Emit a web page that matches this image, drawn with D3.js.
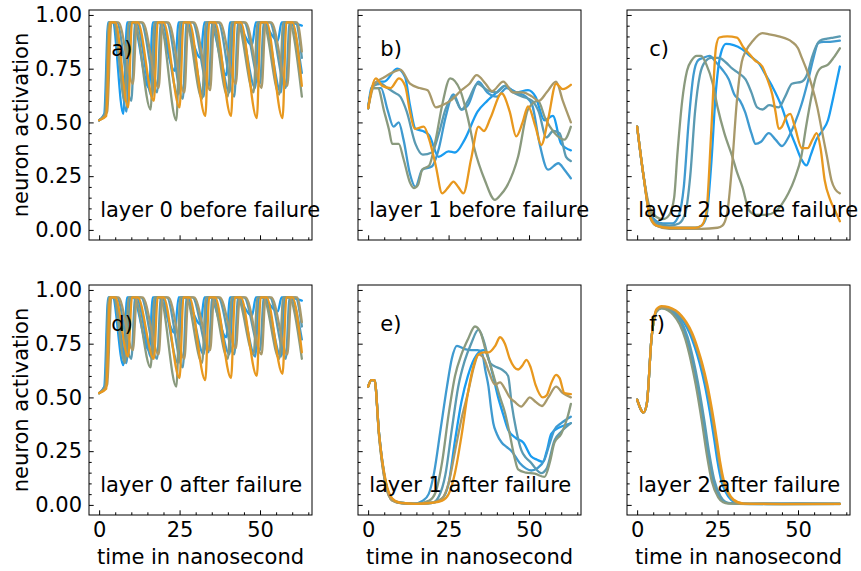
<!DOCTYPE html>
<html><head><meta charset="utf-8">
<script src="https://cdn.jsdelivr.net/npm/d3@7"></script>
<style>body{margin:0;background:#fff}svg{display:block}text{font-family:"DejaVu Sans",sans-serif}</style>
</head><body><svg id="c" width="861" height="571"></svg>
<script>
// ---------- data (time in ns, activation) ----------
const seriesColors = ["#1a9cf0","#3f9ad0","#5a9ab2","#8a9a7e","#a8996a","#e8981e"];
const panelTags = ["a)","b)","c)","d)","e)","f)"];
const panelTitles = ["layer 0 before failure","layer 1 before failure","layer 2 before failure",
                     "layer 0 after failure","layer 1 after failure","layer 2 after failure"];
const xTicks = [0,25,50];
const yTicks = [0,0.25,0.5,0.75,1.0];

// panel a: layer 0 before failure
const pa0=[[0,.51],[1.6,.54],[2.8,.965],[4.2,.965],[7.5,.54],[8.7,.965],[10.5,.965],[15.5,.66],[16.7,.965],[18.5,.965],[23.5,.74],[24.7,.965],[26.5,.965],[31.5,.80],[32.7,.965],[34.5,.965],[39.5,.72],[40.7,.965],[42.5,.965],[47.5,.86],[48.7,.965],[50.5,.965],[55.5,.88],[56.7,.965],[58.5,.965],[63,.95]];
const pa1=[[0,.51],[2,.54],[3.2,.965],[4.8,.965],[8.5,.55],[9.7,.965],[11.5,.965],[16.5,.62],[17.7,.965],[19.5,.965],[24.5,.63],[25.7,.965],[27.5,.965],[32.5,.62],[33.7,.965],[35.5,.965],[40.5,.64],[41.7,.965],[43.5,.965],[48.5,.66],[49.7,.965],[51.5,.965],[56.5,.64],[57.7,.965],[59.5,.965],[63,.73]];
const pa2=[[0,.51],[2.3,.56],[3.5,.965],[5.5,.965],[10,.60],[11.2,.965],[13,.965],[18,.64],[19.2,.965],[21,.965],[26,.61],[27.2,.965],[29,.965],[34,.66],[35.2,.965],[37,.965],[42,.62],[43.2,.965],[45,.965],[50,.68],[51.2,.965],[53,.965],[58,.66],[59.2,.965],[61,.965],[63,.80]];
const pa3=[[0,.51],[1.8,.53],[3,.965],[4.5,.965],[8,.60],[9.2,.965],[11,.965],[16,.56],[17.2,.965],[19,.965],[24,.51],[25.2,.965],[27,.965],[32,.61],[33.2,.965],[35,.965],[40,.62],[41.2,.965],[43,.965],[48,.64],[49.2,.965],[51,.965],[56,.63],[57.2,.965],[59,.965],[63,.62]];
const pa4=[[0,.51],[2.5,.55],[3.8,.965],[6,.965],[10.5,.68],[11.7,.965],[13.5,.965],[18.5,.66],[19.7,.965],[21.5,.965],[26.5,.64],[27.7,.965],[29.5,.965],[34.5,.65],[35.7,.965],[37.5,.965],[42.5,.68],[43.7,.965],[45.5,.965],[50.5,.66],[51.7,.965],[53.5,.965],[58.5,.67],[59.7,.965],[61.5,.965],[63,.83]];
const pa5=[[0,.51],[2.2,.53],[3.4,.965],[5,.965],[9,.57],[10.2,.965],[12,.965],[17,.60],[18.2,.965],[20,.965],[25,.57],[26.2,.965],[28,.965],[33,.53],[34.2,.965],[36,.965],[41,.53],[42.2,.965],[44,.965],[49,.52],[50.2,.965],[52,.965],[57,.52],[58.2,.965],[60,.965],[63,.67]];

// panel b: layer 1 before failure
const pb0=[[0,.566],[1,.66],[3,.69],[5,.69],[9,.75],[11.5,.71],[13,.58],[14.7,.47],[17,.46],[19,.44],[21.9,.34],[25,.365],[27,.36],[30,.42],[34,.55],[37,.60],[40,.64],[42.5,.67],[46,.64],[49.7,.65],[52,.62],[54.8,.51],[57.4,.53],[60,.40],[63,.37]];
const pb1=[[0,.566],[1.5,.66],[4,.66],[6,.56],[7.9,.48],[9.5,.50],[11,.42],[13,.26],[14.7,.20],[16.8,.28],[19.8,.295],[22,.38],[24,.52],[26.5,.63],[29,.56],[31,.58],[34.3,.69],[37,.64],[40,.62],[43,.66],[46,.64],[49,.62],[51,.58],[53.3,.40],[55.9,.28],[59.1,.31],[61,.28],[63,.24]];
const pb2=[[0,.566],[1.5,.67],[4,.68],[6,.66],[8,.64],[10,.62],[12,.55],[14.7,.40],[17,.35],[19.8,.36],[22,.45],[24,.56],[26.5,.62],[29,.56],[31,.60],[34,.68],[37,.65],[40,.64],[42.5,.67],[45,.64],[48,.62],[51,.60],[53,.55],[55.4,.43],[57.5,.46],[59.5,.45],[61.5,.34],[63,.32]];
const pb3=[[0,.566],[1.5,.66],[3,.66],[5,.55],[6.5,.465],[7.5,.40],[9.5,.40],[11,.33],[13,.22],[14.2,.195],[15.5,.21],[16.8,.28],[19,.30],[21,.42],[23,.58],[25.5,.705],[28.6,.65],[31,.52],[33,.38],[36.3,.23],[39.4,.14],[41,.16],[43,.20],[46.6,.34],[49.7,.56],[52.8,.60],[55,.52],[58,.45],[61,.42],[63,.48]];
const pb4=[[0,.566],[2,.68],[5,.71],[8,.735],[10,.745],[13,.68],[16,.66],[18.5,.65],[21,.57],[23,.58],[25.5,.60],[29,.65],[31.5,.68],[33.7,.72],[36.5,.68],[38.5,.645],[42,.69],[45,.64],[48,.64],[51,.62],[53,.60],[55.5,.64],[58.4,.69],[60.5,.60],[63,.50]];
const pb5=[[0,.566],[2.4,.705],[4.4,.67],[7,.66],[9.6,.705],[11.5,.67],[13,.55],[14.5,.47],[17.3,.48],[19,.42],[21,.30],[23,.17],[25,.20],[26.5,.225],[28,.20],[29.6,.17],[32,.33],[34.3,.48],[36,.46],[38,.52],[41.5,.635],[44,.55],[46,.435],[48,.50],[49.7,.575],[52,.48],[53.8,.395],[56,.52],[58.4,.68],[60.5,.655],[63,.675]];

// panel c: layer 2 before failure
const pc0=[[0,.48],[2,.25],[4,.06],[6,.02],[10,.01],[18,.01],[20,.02],[21.5,.06],[23,.30],[24.5,.65],[26,.82],[27.6,.865],[30,.86],[32.7,.84],[35,.81],[37.8,.775],[40,.72],[41.9,.67],[45,.57],[47,.48],[49.1,.40],[51,.33],[52.6,.30],[54,.35],[55.7,.42],[57.5,.46],[59.3,.51],[61,.62],[63,.76]];
const pc1=[[0,.48],[2,.25],[4,.08],[6,.04],[8,.03],[11,.03],[13,.07],[14.5,.20],[16,.50],[17.5,.72],[19,.79],[20.5,.80],[22.5,.81],[24.5,.78],[26.5,.745],[28.5,.70],[30.2,.63],[32,.60],[33.5,.55],[35.5,.45],[36.8,.40],[38.5,.41],[40.9,.45],[43,.42],[45,.39],[47,.43],[49.1,.50],[51,.58],[53.2,.70],[54.8,.80],[56.3,.87],[58,.875],[60,.875],[63,.88]];
const pc2=[[0,.48],[2,.25],[4,.07],[6,.03],[10,.02],[13,.03],[15,.08],[16.5,.25],[18,.55],[19.5,.72],[21,.78],[23,.80],[25.5,.80],[27.5,.78],[29.6,.75],[31.5,.73],[33.7,.70],[35.5,.64],[37.3,.57],[39,.56],[41,.58],[44,.57],[46,.62],[48.1,.68],[51.2,.69],[53,.73],[54.3,.80],[55.5,.85],[56.8,.88],[59,.89],[61,.895],[63,.90]];
const pc3=[[0,.48],[2,.25],[4,.10],[6,.06],[8,.05],[10,.07],[11.5,.15],[12.5,.35],[14,.60],[15.5,.74],[17,.79],[18.5,.81],[19.9,.81],[21.5,.77],[23.5,.68],[25,.57],[27.1,.45],[29.6,.34],[31,.27],[32.7,.20],[34.8,.09],[37,.07],[40,.07],[43,.085],[45,.12],[47,.17],[49,.24],[51,.34],[52.5,.48],[54.3,.63],[55.5,.71],[56.8,.75],[59.4,.77],[61,.80],[63,.845]];
const pc4=[[0,.48],[2,.25],[4,.07],[6,.02],[10,.005],[20,.005],[25,.01],[26.5,.02],[28,.08],[29.5,.30],[31,.60],[32.5,.78],[33.7,.83],[36,.88],[38.9,.915],[41,.91],[44,.90],[48.1,.875],[50,.845],[51.2,.80],[52.8,.74],[54.3,.67],[56,.57],[57.3,.47],[59,.34],[60.4,.23],[61.5,.19],[63,.17]];
const pc5=[[0,.48],[2,.25],[4,.06],[6,.02],[10,.01],[18,.01],[20,.02],[21.5,.08],[23,.45],[24.5,.85],[25.5,.895],[28,.90],[31,.895],[33,.85],[34.8,.82],[36.5,.79],[38.9,.76],[40.5,.70],[42,.63],[43,.55],[44,.47],[45,.48],[46.5,.53],[47.6,.54],[49,.48],[51.2,.38],[53,.38],[54.5,.42],[55.8,.45],[57,.38],[58.3,.23],[60,.14],[61.5,.09],[63,.04]];

// panel d: layer 0 after failure
const pd0=[[0,.52],[1.6,.55],[2.8,.965],[4.2,.965],[7.5,.65],[8.7,.965],[10.5,.965],[15.5,.72],[16.7,.965],[18.5,.965],[23.5,.80],[24.7,.965],[26.5,.965],[31.5,.84],[32.7,.965],[34.5,.965],[39.5,.78],[40.7,.965],[42.5,.965],[47.5,.88],[48.7,.965],[50.5,.965],[55.5,.90],[56.7,.965],[58.5,.965],[63,.95]];
const pd1=[[0,.52],[2,.55],[3.2,.965],[4.8,.965],[8.5,.66],[9.7,.965],[11.5,.965],[16.5,.68],[17.7,.965],[19.5,.965],[24.5,.66],[25.7,.965],[27.5,.965],[32.5,.70],[33.7,.965],[35.5,.965],[40.5,.70],[41.7,.965],[43.5,.965],[48.5,.69],[49.7,.965],[51.5,.965],[56.5,.69],[57.7,.965],[59.5,.965],[63,.77]];
const pd2=[[0,.52],[2.3,.57],[3.5,.965],[5.5,.965],[10,.68],[11.2,.965],[13,.965],[18,.68],[19.2,.965],[21,.965],[26,.64],[27.2,.965],[29,.965],[34,.71],[35.2,.965],[37,.965],[42,.70],[43.2,.965],[45,.965],[50,.72],[51.2,.965],[53,.965],[58,.68],[59.2,.965],[61,.965],[63,.83]];
const pd3=[[0,.52],[1.8,.54],[3,.965],[4.5,.965],[8,.66],[9.2,.965],[11,.965],[16,.64],[17.2,.965],[19,.965],[24,.55],[25.2,.965],[27,.965],[32,.66],[33.2,.965],[35,.965],[40,.68],[41.2,.965],[43,.965],[48,.70],[49.2,.965],[51,.965],[56,.68],[57.2,.965],[59,.965],[63,.68]];
const pd4=[[0,.52],[2.5,.56],[3.8,.965],[6,.965],[10.5,.72],[11.7,.965],[13.5,.965],[18.5,.70],[19.7,.965],[21.5,.965],[26.5,.68],[27.7,.965],[29.5,.965],[34.5,.72],[35.7,.965],[37.5,.965],[42.5,.73],[43.7,.965],[45.5,.965],[50.5,.70],[51.7,.965],[53.5,.965],[58.5,.70],[59.7,.965],[61.5,.965],[63,.85]];
const pd5=[[0,.52],[2.2,.54],[3.4,.965],[5,.965],[9,.69],[10.2,.965],[12,.965],[17,.68],[18.2,.965],[20,.965],[25,.59],[26.2,.965],[28,.965],[33,.58],[34.2,.965],[36,.965],[41,.59],[42.2,.965],[44,.965],[49,.60],[50.2,.965],[52,.965],[57,.61],[58.2,.965],[60,.965],[63,.71]];

// panel e: layer 1 after failure
const pe0=[[0,.55],[1,.58],[2,.58],[3.4,.33],[5.5,.10],[7.5,.025],[10,.01],[15,.005],[20,.01],[23,.03],[25,.10],[27,.30],[29,.48],[31,.60],[33,.68],[35.8,.72],[37,.70],[38.5,.62],[40.4,.50],[42,.42],[43.5,.35],[46,.31],[48.2,.29],[50.7,.225],[52.5,.21],[54.3,.20],[55.5,.25],[56.9,.33],[59.4,.36],[61,.37],[63,.38]];
const pe1=[[0,.55],[1,.58],[2,.58],[3.4,.33],[5.5,.10],[7.5,.025],[10,.01],[14,.005],[17,.02],[18.8,.05],[20.5,.15],[22.5,.35],[24.5,.55],[26,.68],[27.6,.74],[30,.725],[32.2,.72],[34,.72],[35.3,.71],[36.5,.62],[37.4,.55],[38.2,.45],[38.9,.38],[40,.33],[41.5,.29],[43,.27],[44.6,.25],[47.1,.195],[49,.17],[50.7,.16],[52.5,.17],[54.8,.21],[56.5,.29],[57.9,.35],[60,.38],[63,.41]];
const pe2=[[0,.55],[1,.58],[2,.58],[3.4,.33],[5.5,.10],[7.5,.025],[10,.01],[15,.005],[20,.01],[22,.04],[24,.14],[26,.35],[28,.55],[30,.67],[32,.75],[34.3,.815],[36,.76],[37.9,.66],[40,.64],[41.5,.63],[43.5,.60],[44.6,.47],[46,.35],[47.6,.255],[49,.22],[50.7,.195],[52,.17],[53.8,.148],[55.5,.17],[57.9,.30],[60,.34],[63,.38]];
const pe3=[[0,.55],[1,.58],[2,.58],[3.4,.32],[5.5,.09],[7.5,.02],[10,.008],[15,.005],[19,.02],[21,.06],[23,.20],[25,.42],[27,.60],[29,.70],[31,.77],[33.2,.83],[35,.80],[36.5,.72],[38,.65],[39.4,.58],[41,.50],[42.5,.43],[44,.33],[45.5,.22],[46.6,.165],[49,.15],[51.8,.145],[54.8,.13],[56.5,.20],[57.9,.29],[60,.33],[62,.41],[63,.47]];
const pe4=[[0,.55],[1,.58],[2,.58],[3.4,.32],[5.5,.09],[7.5,.02],[10,.008],[15,.005],[20,.01],[23,.03],[25,.10],[27,.25],[29,.40],[31,.52],[33,.65],[34.3,.70],[36,.68],[37.5,.62],[39.4,.56],[41,.57],[42.5,.54],[44,.50],[45.5,.48],[47.6,.457],[49,.48],[50.2,.50],[52,.48],[54,.46],[56,.50],[58.4,.55],[60.5,.52],[63,.50]];
const pe5=[[0,.55],[1,.58],[2,.58],[3.4,.33],[5.5,.11],[7.5,.03],[10,.01],[15,.005],[20,.01],[23,.02],[25,.05],[27,.15],[29,.32],[31,.52],[33,.66],[34.3,.70],[36,.71],[37.5,.71],[39.5,.74],[41,.78],[42.5,.75],[44,.68],[46.6,.63],[48,.65],[49.2,.675],[50.5,.64],[52,.56],[54.3,.50],[55.5,.51],[57,.57],[58.4,.605],[59.5,.59],[61,.52],[63,.515]];

// panel f: layer 2 after failure
const pf0=[[0,.49],[2,.43],[3,.47],[4.5,.78],[6,.905],[7.6,.92],[11.2,.905],[13,.88],[14.5,.85],[16.3,.80],[18,.73],[19.4,.66],[21,.56],[22.5,.44],[24,.30],[25,.20],[26.2,.11],[27.5,.06],[29.2,.024],[32.3,.005],[45,.004],[63,.005]];
const pf1=[[0,.49],[2,.43],[3,.47],[4.5,.78],[6,.90],[7.6,.915],[9.5,.91],[11.5,.89],[13.5,.85],[15.3,.78],[17,.68],[18.5,.57],[20.4,.40],[22,.24],[23.5,.12],[25.5,.04],[27,.015],[28.6,.008],[35,.005],[50,.006],[63,.005]];
const pf2=[[0,.49],[2,.43],[3,.47],[4.5,.78],[6,.90],[7.6,.915],[9.5,.91],[11.5,.895],[13.5,.86],[15.7,.78],[17.4,.68],[18.9,.57],[20.8,.40],[22.4,.24],[23.9,.12],[25.9,.04],[27.4,.015],[29,.008],[35,.005],[50,.007],[63,.006]];
const pf3=[[0,.49],[2,.43],[3,.47],[4.5,.78],[6,.90],[7.6,.915],[9.5,.905],[11.2,.885],[13.2,.84],[15,.77],[16.7,.67],[18.2,.56],[20.1,.39],[21.7,.23],[23.2,.11],[25.2,.035],[26.7,.012],[28.3,.006],[35,.004],[63,.004]];
const pf4=[[0,.49],[2,.43],[3,.47],[4.5,.78],[6,.905],[7.6,.92],[11.7,.905],[13.5,.88],[15,.85],[16.8,.80],[18.5,.73],[19.9,.66],[21.5,.56],[23,.44],[24.5,.30],[25.5,.20],[26.7,.11],[28,.06],[29.7,.024],[32.8,.006],[45,.005],[63,.005]];
const pf5=[[0,.49],[2,.43],[3,.47],[4.5,.78],[6,.91],[7.6,.925],[12,.905],[13.8,.88],[15.3,.85],[17.1,.80],[18.8,.73],[20.2,.66],[21.8,.56],[23.3,.44],[24.8,.30],[25.8,.20],[27,.11],[28.3,.06],[30,.024],[33.1,.006],[45,.004],[63,.005]];

const panelSeries = [[pa0,pa1,pa2,pa3,pa4,pa5],[pb0,pb1,pb2,pb3,pb4,pb5],[pc0,pc1,pc2,pc3,pc4,pc5],
                     [pd0,pd1,pd2,pd3,pd4,pd5],[pe0,pe1,pe2,pe3,pe4,pe5],[pf0,pf1,pf2,pf3,pf4,pf5]];

// ---------- layout ----------
const svg = d3.select("#c");
const lefts = [89, 358, 627], tops = [10, 285];
const pw = 223, ph = 230;
const FS = 21;

panelSeries.forEach((series, i) => {
  const row = Math.floor(i / 3), col = i % 3;
  const L = lefts[col], T = tops[row], B = T + ph, R = L + pw;
  const x = d3.scaleLinear().domain([-3.15, 66.15]).range([L, R]);
  const y = d3.scaleLinear().domain([-0.047, 1.023]).range([B, T]);
  const g = svg.append("g");

  // minor ticks
  const xMinor = d3.range(0, 66, 5).filter(v => !xTicks.includes(v));
  const yMinor = d3.range(0, 1.0001, 0.05).map(v => +v.toFixed(2)).filter(v => !yTicks.includes(v));
  g.append("g").attr("transform", `translate(0,${B})`)
    .call(d3.axisBottom(x).tickValues(xMinor).tickSize(-2.7).tickFormat(""))
    .call(s => s.select(".domain").remove());
  g.append("g").attr("transform", `translate(${L},0)`)
    .call(d3.axisLeft(y).tickValues(yMinor).tickSize(-2.7).tickFormat(""))
    .call(s => s.select(".domain").remove());

  // major ticks
  const xa = g.append("g").attr("transform", `translate(0,${B})`)
    .call(d3.axisBottom(x).tickValues(xTicks).tickSize(-4.7).tickPadding(7)
      .tickFormat(row === 1 ? d3.format("d") : ""));
  xa.select(".domain").remove();
  const ya = g.append("g").attr("transform", `translate(${L},0)`)
    .call(d3.axisLeft(y).tickValues(yTicks).tickSize(-4.7).tickPadding(7)
      .tickFormat(col === 0 ? d3.format(".2f") : ""));
  ya.select(".domain").remove();
  g.selectAll(".tick line").attr("stroke", "#000").attr("stroke-width", 1);
  g.selectAll(".tick text").attr("font-size", FS).attr("fill", "#000")
    .attr("font-family", "DejaVu Sans, sans-serif");

  // lines
  const line = d3.line().x(d => x(d[0])).y(d => y(d[1])).curve(d3.curveMonotoneX);
  series.forEach((s, k) => {
    g.append("path").datum(s).attr("d", line).attr("fill", "none")
      .attr("stroke", seriesColors[k]).attr("stroke-width", 2.3)
      .attr("stroke-linejoin", "round").attr("stroke-linecap", "round");
  });

  // frame
  g.append("rect").attr("x", L).attr("y", T).attr("width", pw).attr("height", ph)
    .attr("fill", "none").attr("stroke", "#000").attr("stroke-width", 1);

  // annotations
  g.append("text").attr("x", L + 0.05 * pw).attr("y", B - 0.1 * ph)
    .attr("font-size", FS).text(panelTitles[i]);
  g.append("text").attr("x", L + 0.1 * pw).attr("y", B - 0.8 * ph)
    .attr("font-size", FS).text(panelTags[i]);

  if (col === 0) {
    svg.append("text").attr("transform", `translate(28,${T + ph / 2}) rotate(-90)`)
      .attr("text-anchor", "middle").attr("font-size", FS).text("neuron activation");
  }
  if (row === 1) {
    svg.append("text").attr("x", (L + R) / 2).attr("y", 564)
      .attr("text-anchor", "middle").attr("font-size", FS).text("time in nanosecond");
  }
});
</script></body></html>
